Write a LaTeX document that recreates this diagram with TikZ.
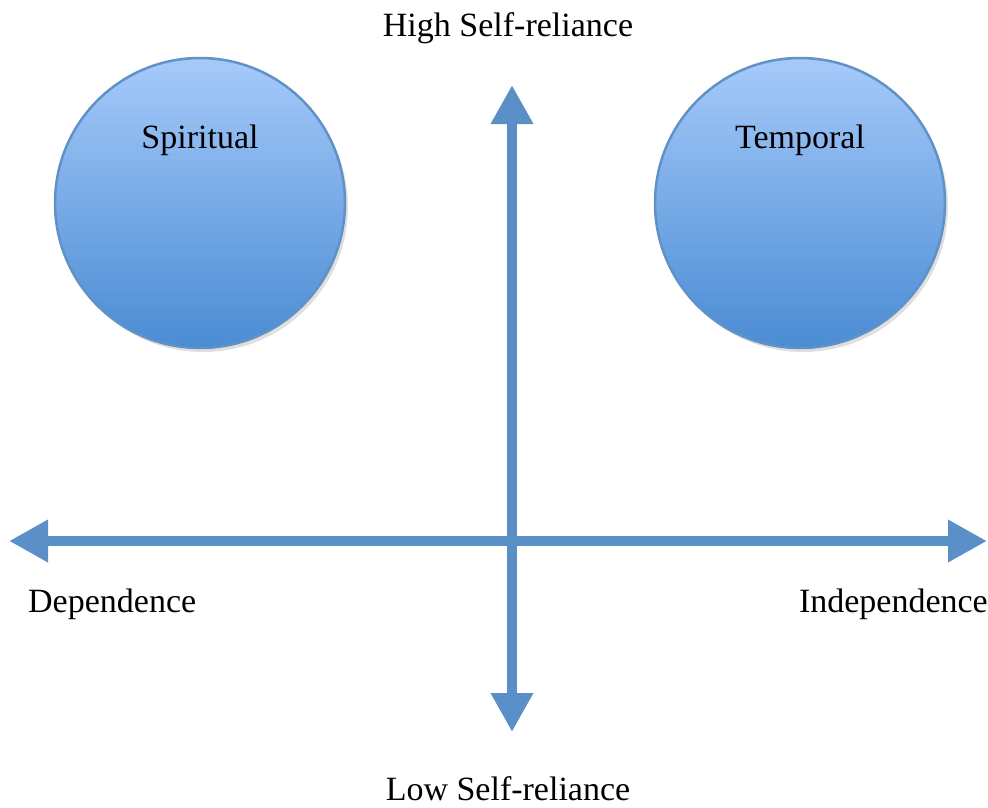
\documentclass[tikz,border=0pt]{standalone}
\usepackage{fontspec}
\setmainfont{Liberation Serif}
\usetikzlibrary{arrows.meta,shadows}
\definecolor{axisblue}{RGB}{91,143,199}
\definecolor{balltop}{RGB}{166,202,250}
\definecolor{ballbottom}{RGB}{74,140,212}
\definecolor{ballrim}{RGB}{96,146,200}
\tikzset{
  axis/.style={draw=axisblue, line width=10pt,
    {Triangle[length=39pt,width=40pt]}-{Triangle[length=39pt,width=40pt]}},
  ball/.style={circle, minimum size=290pt, inner sep=0pt, draw=ballrim,
    line width=2.5pt, top color=balltop, bottom color=ballbottom,
    drop shadow={opacity=0.25, shadow xshift=3pt, shadow yshift=-4pt}},
  caption/.style={font=\fontsize{34}{38}\selectfont, inner sep=0pt, anchor=base}
}
\begin{document}
\begin{tikzpicture}[x=1pt, y=-1pt]
    \useasboundingbox (0,0) rectangle (988,808);
    % the two quadrants
    \node[ball] (spiritual) at (200,203) {};
    \node[ball] (temporal) at (800,203) {};
    \node[caption] (spiritualtxt) at ([yshift=55pt]spiritual.center) {Spiritual};
    \node[caption] (temporaltxt) at ([yshift=55pt]temporal.center) {Temporal};
    % axis ends
    \coordinate (west) at (9,541);
    \coordinate (east) at (987,541);
    \coordinate (north) at (512,85);
    \coordinate (south) at (512,732);
    \draw[axis] (west) -- (east);
    \draw[axis] (south) -- (north);
    % axis labels
    \node[caption] (high) at (508,37) {High Self-reliance};
    \node[caption] (low) at (508,800) {Low Self-reliance};
    \node[caption, anchor=base west] (dep) at (28,612) {Dependence};
    \node[caption, anchor=base east] (indep) at (988,612) {Independence};
  \end{tikzpicture}
\end{document}
